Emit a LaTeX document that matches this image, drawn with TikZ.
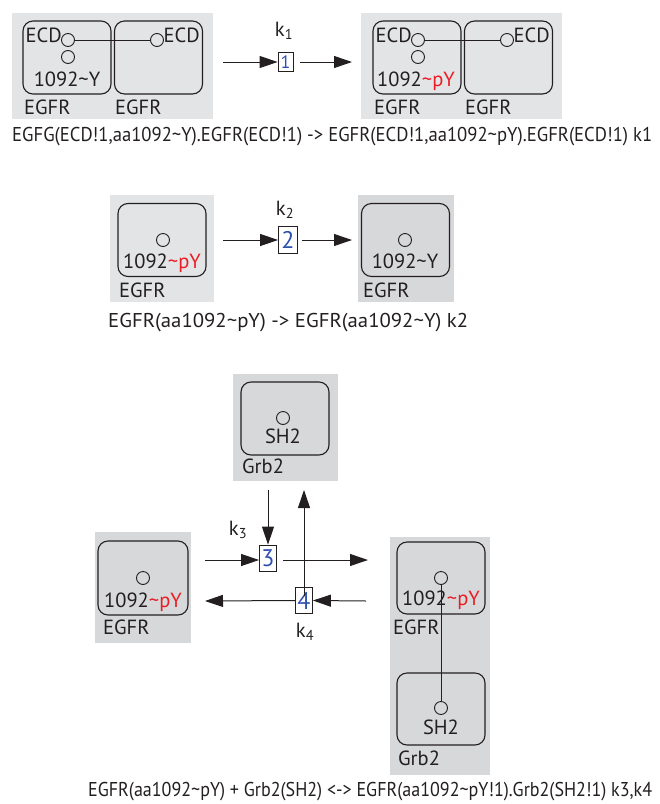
\documentclass[tikz,border=0pt]{standalone}
\usepackage{fontspec}
\setmainfont{PT Sans}
\usetikzlibrary{positioning,arrows.meta}

\definecolor{bglight}{HTML}{E3E4E6}
\definecolor{bgdark}{HTML}{D7D8DA}
\definecolor{rateblue}{HTML}{3050B0}
\definecolor{pyred}{HTML}{EC1C24}
\definecolor{ink}{HTML}{231F20}

\newcommand{\tld}{\textasciitilde}
\newcommand{\pY}{{\color{pyred}\tld pY}}

\begin{document}
\begin{tikzpicture}[
    x=1pt, y=-1pt,
    every node/.style={font=\fontsize{20.5}{24}\selectfont, inner sep=0pt, text=ink},
    molbox/.style={draw=ink, rounded corners=10pt, line width=1.1pt, minimum width=88pt, minimum height=73pt},
    site/.style={draw=ink, circle, line width=0.9pt, minimum size=13pt},
    rxnbox/.style={draw=ink, line width=0.8pt, minimum width=17pt, minimum height=26pt, text=rateblue,
                   font=\fontsize{24}{26}\selectfont},
    flow/.style={draw=ink, -{Triangle[length=18pt,width=12pt]}, line width=1pt},
    caption/.style={font=\fontsize{20}{24}\selectfont}
]
\useasboundingbox (0,0) rectangle (660,804);

% Reaction 1: dimer phosphorylation
\fill[bglight] (12,13) rectangle (213,119);
\fill[bglight] (361,13) rectangle (562,119);
\node[molbox] (dimAl) at (67,57.5) {};
\node[molbox] (dimAr) at (158.5,57.5) {};
\node[molbox] (dimBl) at (417,57.5) {};
\node[molbox] (dimBr) at (508.5,57.5) {};
\node[site] (ecdAl) at (68,40) {};
\node[site] (yAl) at (68,57) {};
\node[site] (ecdAr) at (157,40) {};
\node[site] (ecdBl) at (418,40) {};
\node[site] (yBl) at (418,57) {};
\node[site] (ecdBr) at (507,40) {};
\draw[ink, line width=0.9pt] (ecdAl) -- (ecdAr);
\draw[ink, line width=0.9pt] (ecdBl) -- (ecdBr);
\node[anchor=base east] at (62,42) {ECD};
\node[anchor=base west] at (163.5,42) {ECD};
\node[anchor=base east] at (412,42) {ECD};
\node[anchor=base west] at (513.5,42) {ECD};
\node[anchor=base] at (67,86) {1092\tld Y};
\node[anchor=base] at (416,86) {1092\pY};
\node[anchor=base west] at (24,114) {EGFR};
\node[anchor=base west] at (115,114) {EGFR};
\node[anchor=base west] at (374,114) {EGFR};
\node[anchor=base west] at (465,114) {EGFR};

\node[rxnbox, minimum width=15pt, minimum height=19pt, font=\fontsize{18}{20}\selectfont] (rxn1) at (285.5,62) {1};
\node[anchor=base] at (284,36) {k\textsubscript{1}};
\coordinate (in1) at (223,62);
\coordinate (out1) at (352,62);
\draw[flow] (in1) -- (rxn1.west);
\draw[flow] ([xshift=7pt]rxn1.east) -- (out1);

\node[caption, anchor=base west] at (12,141)
  {\resizebox{640pt}{\height}{EGFG(ECD!1,aa1092\tld Y).EGFR(ECD!1) -> EGFR(ECD!1,aa1092\tld pY).EGFR(ECD!1) k1}};

% Reaction 2: dephosphorylation
\fill[bglight] (110,195) rectangle (214,302);
\fill[bgdark] (358,195) rectangle (454,302);
\node[molbox] (monoA) at (162,240) {};
\node[molbox] (monoB) at (405.5,240) {};
\node[site] (yMa) at (163,240) {};
\node[site] (yMb) at (405,240) {};
\node[anchor=base] at (162,268) {1092\pY};
\node[anchor=base] at (405,268) {1092\tld Y};
\node[anchor=base west] at (119,297) {EGFR};
\node[anchor=base west] at (363,297) {EGFR};

\node[rxnbox, minimum width=19pt, minimum height=27pt] (rxn2) at (288,240) {2};
\node[anchor=base] at (285,215) {k\textsubscript{2}};
\coordinate (in2) at (223,240);
\coordinate (out2) at (352,240);
\draw[flow] (in2) -- (rxn2.west);
\draw[flow] ([xshift=4pt]rxn2.east) -- (out2);

\node[caption, anchor=base west] at (108,327)
  {\resizebox{360pt}{\height}{EGFR(aa1092\tld pY) -> EGFR(aa1092\tld Y) k2}};

% Reaction 3/4: Grb2 binding
\fill[bgdark] (233,374) rectangle (338,481);
\node[molbox] (grbFree) at (285,418.5) {};
\node[site] (sh2Free) at (283,418) {};
\node[anchor=base] at (283,443) {SH2};
\node[anchor=base west] at (242,473) {Grb2};

\fill[bgdark] (95,532) rectangle (191,643);
\node[molbox, minimum width=90pt, minimum height=74pt] (egfrFree) at (143,578) {};
\node[site] (yFree) at (143,578) {};
\node[anchor=base] at (143,607) {1092\pY};
\node[anchor=base west] at (103,634) {EGFR};

\fill[bgdark] (390,537) rectangle (490,775);
\node[molbox, minimum height=72pt] (egfrCplx) at (441,578) {};
\node[molbox, minimum height=72pt] (grbCplx) at (441,709) {};
\node[site] (yCplx) at (441,578) {};
\node[site] (sh2Cplx) at (441,708) {};
\draw[ink, line width=0.9pt] (yCplx) -- (sh2Cplx);
\node[anchor=base] at (441,605) {1092\pY};
\node[anchor=base west] at (393,634) {EGFR};
\node[anchor=base] at (441,734) {SH2};
\node[anchor=base west] at (398,765) {Grb2};

\node[rxnbox] (rxn3) at (268,558) {3};
\node[rxnbox] (rxn4) at (304,600.5) {4};
\node[anchor=base] at (238,535) {k\textsubscript{3}};
\node[anchor=base] at (305,637) {k\textsubscript{4}};
\coordinate (in3a) at (205,560);
\coordinate (in3b) at (268,490);
\coordinate (out3a) at (368,560);
\coordinate (out3b) at (304,490);
\coordinate (in4) at (366,601);
\coordinate (out4) at (205,601);
\draw[flow] (in3a) -- (rxn3.west |- in3a);
\draw[flow] (in3b) -- (rxn3.north);
\draw[flow] ([xshift=6pt]rxn3.east |- in3a) -- (out3a);
\draw[flow] ([yshift=-9pt]rxn4.north) -- (out3b);
\draw[flow] (in4) -- (rxn4.east);
\draw[flow] (rxn4.west) -- (out4);

\node[caption, anchor=base west] at (88,796)
  {\resizebox{564pt}{\height}{EGFR(aa1092\tld pY) + Grb2(SH2) <-> EGFR(aa1092\tld pY!1).Grb2(SH2!1) k3,k4}};

\end{tikzpicture}
\end{document}
